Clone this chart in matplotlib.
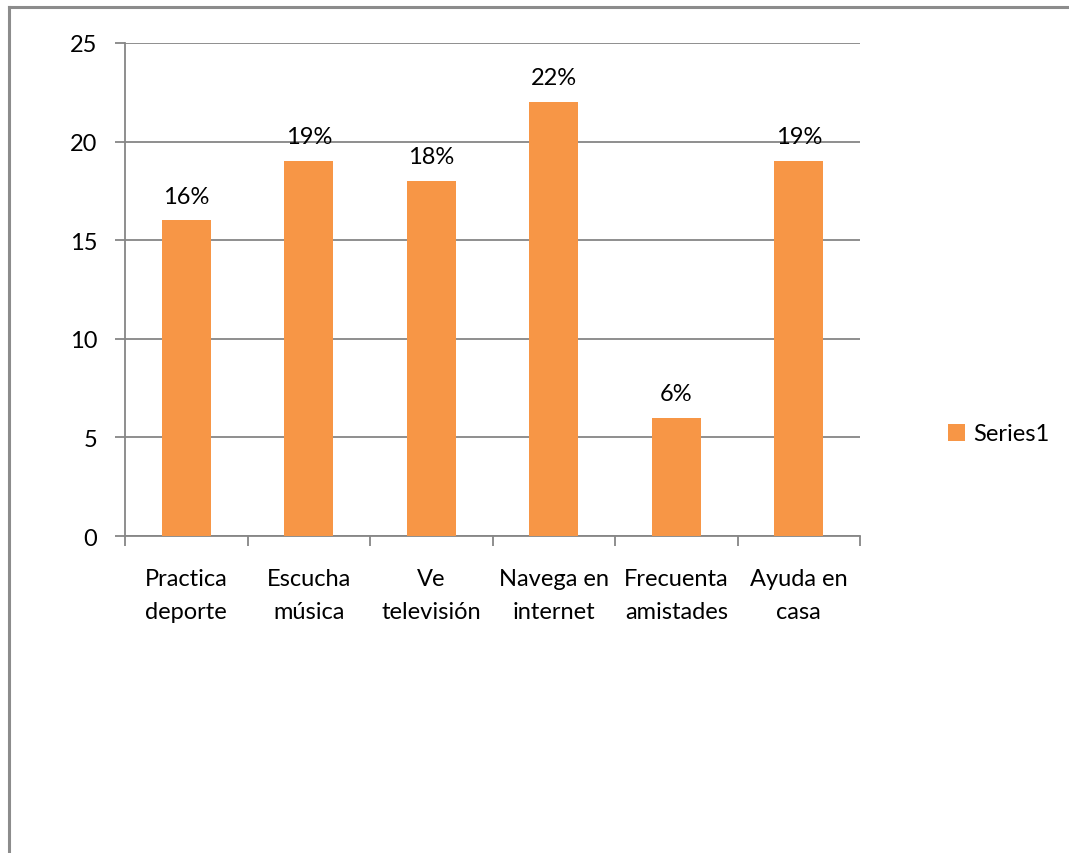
import matplotlib.pyplot as plt
from matplotlib.lines import Line2D
import numpy as np

categories = ["Practica\ndeporte", "Escucha\nmúsica", "Ve\ntelevisión",
              "Navega en\ninternet", "Frecuenta\namistades", "Ayuda en\ncasa"]
values = [16, 19, 18, 22, 6, 19]
pct_labels = ["16%", "19%", "18%", "22%", "6%", "19%"]
yticks = [0, 5, 10, 15, 20, 25]

BAR = "#F79646"
GRID = "#868686"
FS = 17

plt.rcParams["font.family"] = ["Lato", "DejaVu Sans"]

W, H = 1069, 854
fig = plt.figure(figsize=(W / 100, H / 100), dpi=100)
ax = fig.add_axes([125 / W, 1 - 537 / H, 735 / W, 493 / H])

x = np.arange(len(categories))
bars = ax.bar(x, values, width=0.4, color=BAR, label="Series1", zorder=3)
for xi, v, lab in zip(x, values, pct_labels):
    ax.annotate(lab, (xi, v), xytext=(0, 10), textcoords="offset points",
                ha="center", va="bottom", fontsize=FS)

ax.set_xlim(-0.5, len(categories) - 0.5)
ax.set_ylim(0, 25)
ax.set_yticks(yticks)
ax.set_yticklabels([str(t) for t in yticks])
ax.yaxis.grid(True, color=GRID, linewidth=1.3, zorder=0)

ax.set_xticks(x)
ax.set_xticklabels(categories, fontsize=FS, linespacing=1.68)
ax.set_xticks(np.arange(-0.5, len(categories)), minor=True)
ax.tick_params(axis="x", which="major", length=0, pad=23)
ax.tick_params(axis="x", which="minor", length=7, color=GRID, width=1.3)
ax.tick_params(axis="y", length=7, color=GRID, width=1.3, pad=13, labelsize=FS)

for s in ["top", "right"]:
    ax.spines[s].set_visible(False)
for s in ["left", "bottom"]:
    ax.spines[s].set_color(GRID)
    ax.spines[s].set_linewidth(1.3)

fig.legend(handles=[bars], labels=["Series1"], loc="center left",
           bbox_to_anchor=(927 / W, 1 - 435 / H), frameon=False, fontsize=FS,
           handlelength=0.7, handleheight=0.7, handletextpad=0.35)

# outer chart border (left and top only visible)
fig.add_artist(Line2D([9 / W, 9 / W], [0, 1 - 8 / H], color="#8c8c8c", linewidth=2.2))
fig.add_artist(Line2D([9 / W, 1], [1 - 8 / H, 1 - 8 / H], color="#8c8c8c", linewidth=2.2))

fig.savefig("out.png", dpi=100)
